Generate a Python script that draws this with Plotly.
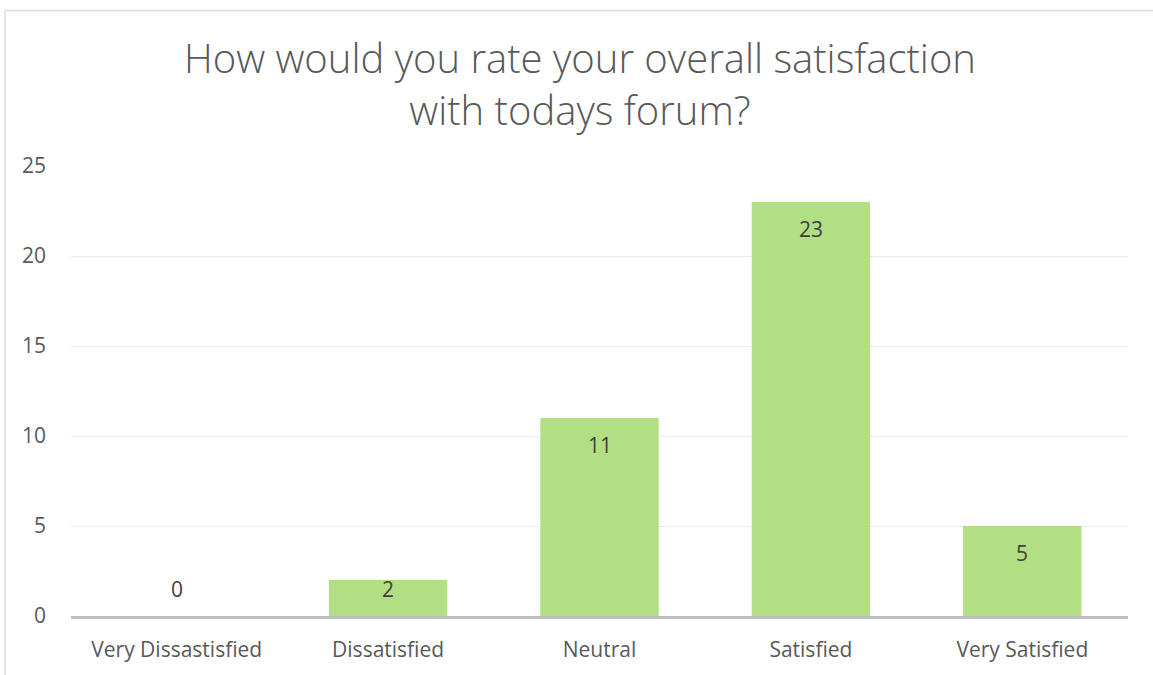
import plotly.graph_objects as go

categories = ["Very Dissastisfied", "Dissatisfied", "Neutral", "Satisfied", "Very Satisfied"]
values = [0, 2, 11, 23, 5]
y_ticks = [0, 5, 10, 15, 20, 25]
title_text = "How would you rate your overall satisfaction<br>with todays forum?"

W, H = 1153, 675
ML, MR, MT, MB = 71, 25, 166, 55
YMAX = 25
px_per_unit = (H - MT - MB) / YMAX

FONT = "Open Sans"
TXT = "#595959"
FS = 21

fig = go.Figure()
fig.add_trace(go.Bar(
    x=categories, y=values,
    marker=dict(color="#B3DF84", line=dict(width=0)),
    width=0.56,
    hoverinfo="x+y",
))

# data labels (inside end, Excel-like)
for c, v in zip(categories, values):
    if v * px_per_unit >= 54:
        yv, shift = v, -27
    else:
        yv, shift = 0, 27
    fig.add_annotation(x=c, y=yv, yshift=shift, text=str(v), showarrow=False,
                       font=dict(family=FONT, size=FS, color="#404040"))

# chart border (left/top visible)
pw = W - ML - MR
ph = H - MT - MB
fig.add_shape(type="line", xref="paper", yref="paper",
              x0=-(ML - 5) / pw, x1=-(ML - 5) / pw,
              y0=-(MB + 20) / ph, y1=1 + (MT - 9) / ph,
              line=dict(color="#D9D9D9", width=1.5))
fig.add_shape(type="line", xref="paper", yref="paper",
              x0=-(ML - 5) / pw, x1=1 + (MR + 20) / pw,
              y0=1 + (MT - 9) / ph, y1=1 + (MT - 9) / ph,
              line=dict(color="#D9D9D9", width=1.5))

fig.update_layout(
    width=W, height=H,
    margin=dict(l=ML, r=MR, t=MT, b=MB),
    paper_bgcolor="white", plot_bgcolor="white",
    showlegend=False,
    bargap=0.44,
    title=dict(text=title_text, x=0.503, xanchor="center", xref="container",
               y=1 - 73 / H, yanchor="middle", yref="container",
               font=dict(family=FONT, size=40, color=TXT, weight=300)),
    font=dict(family=FONT, color=TXT),
)
fig.update_xaxes(
    showgrid=False, showline=True, linecolor="#BFBFBF", linewidth=2.5,
    ticks="", tickfont=dict(size=FS, color=TXT), ticklabelstandoff=13,
)
fig.update_yaxes(
    range=[0, YMAX], tickvals=y_ticks, showgrid=True, gridcolor="#EBEBEB", gridwidth=1,
    zeroline=False, showline=False, ticks="",
    tickfont=dict(size=FS, color=TXT), ticklabelstandoff=24,
)

fig.write_html("out.html", config={"displayModeBar": False},
               post_script="document.body.style.margin='0';")
